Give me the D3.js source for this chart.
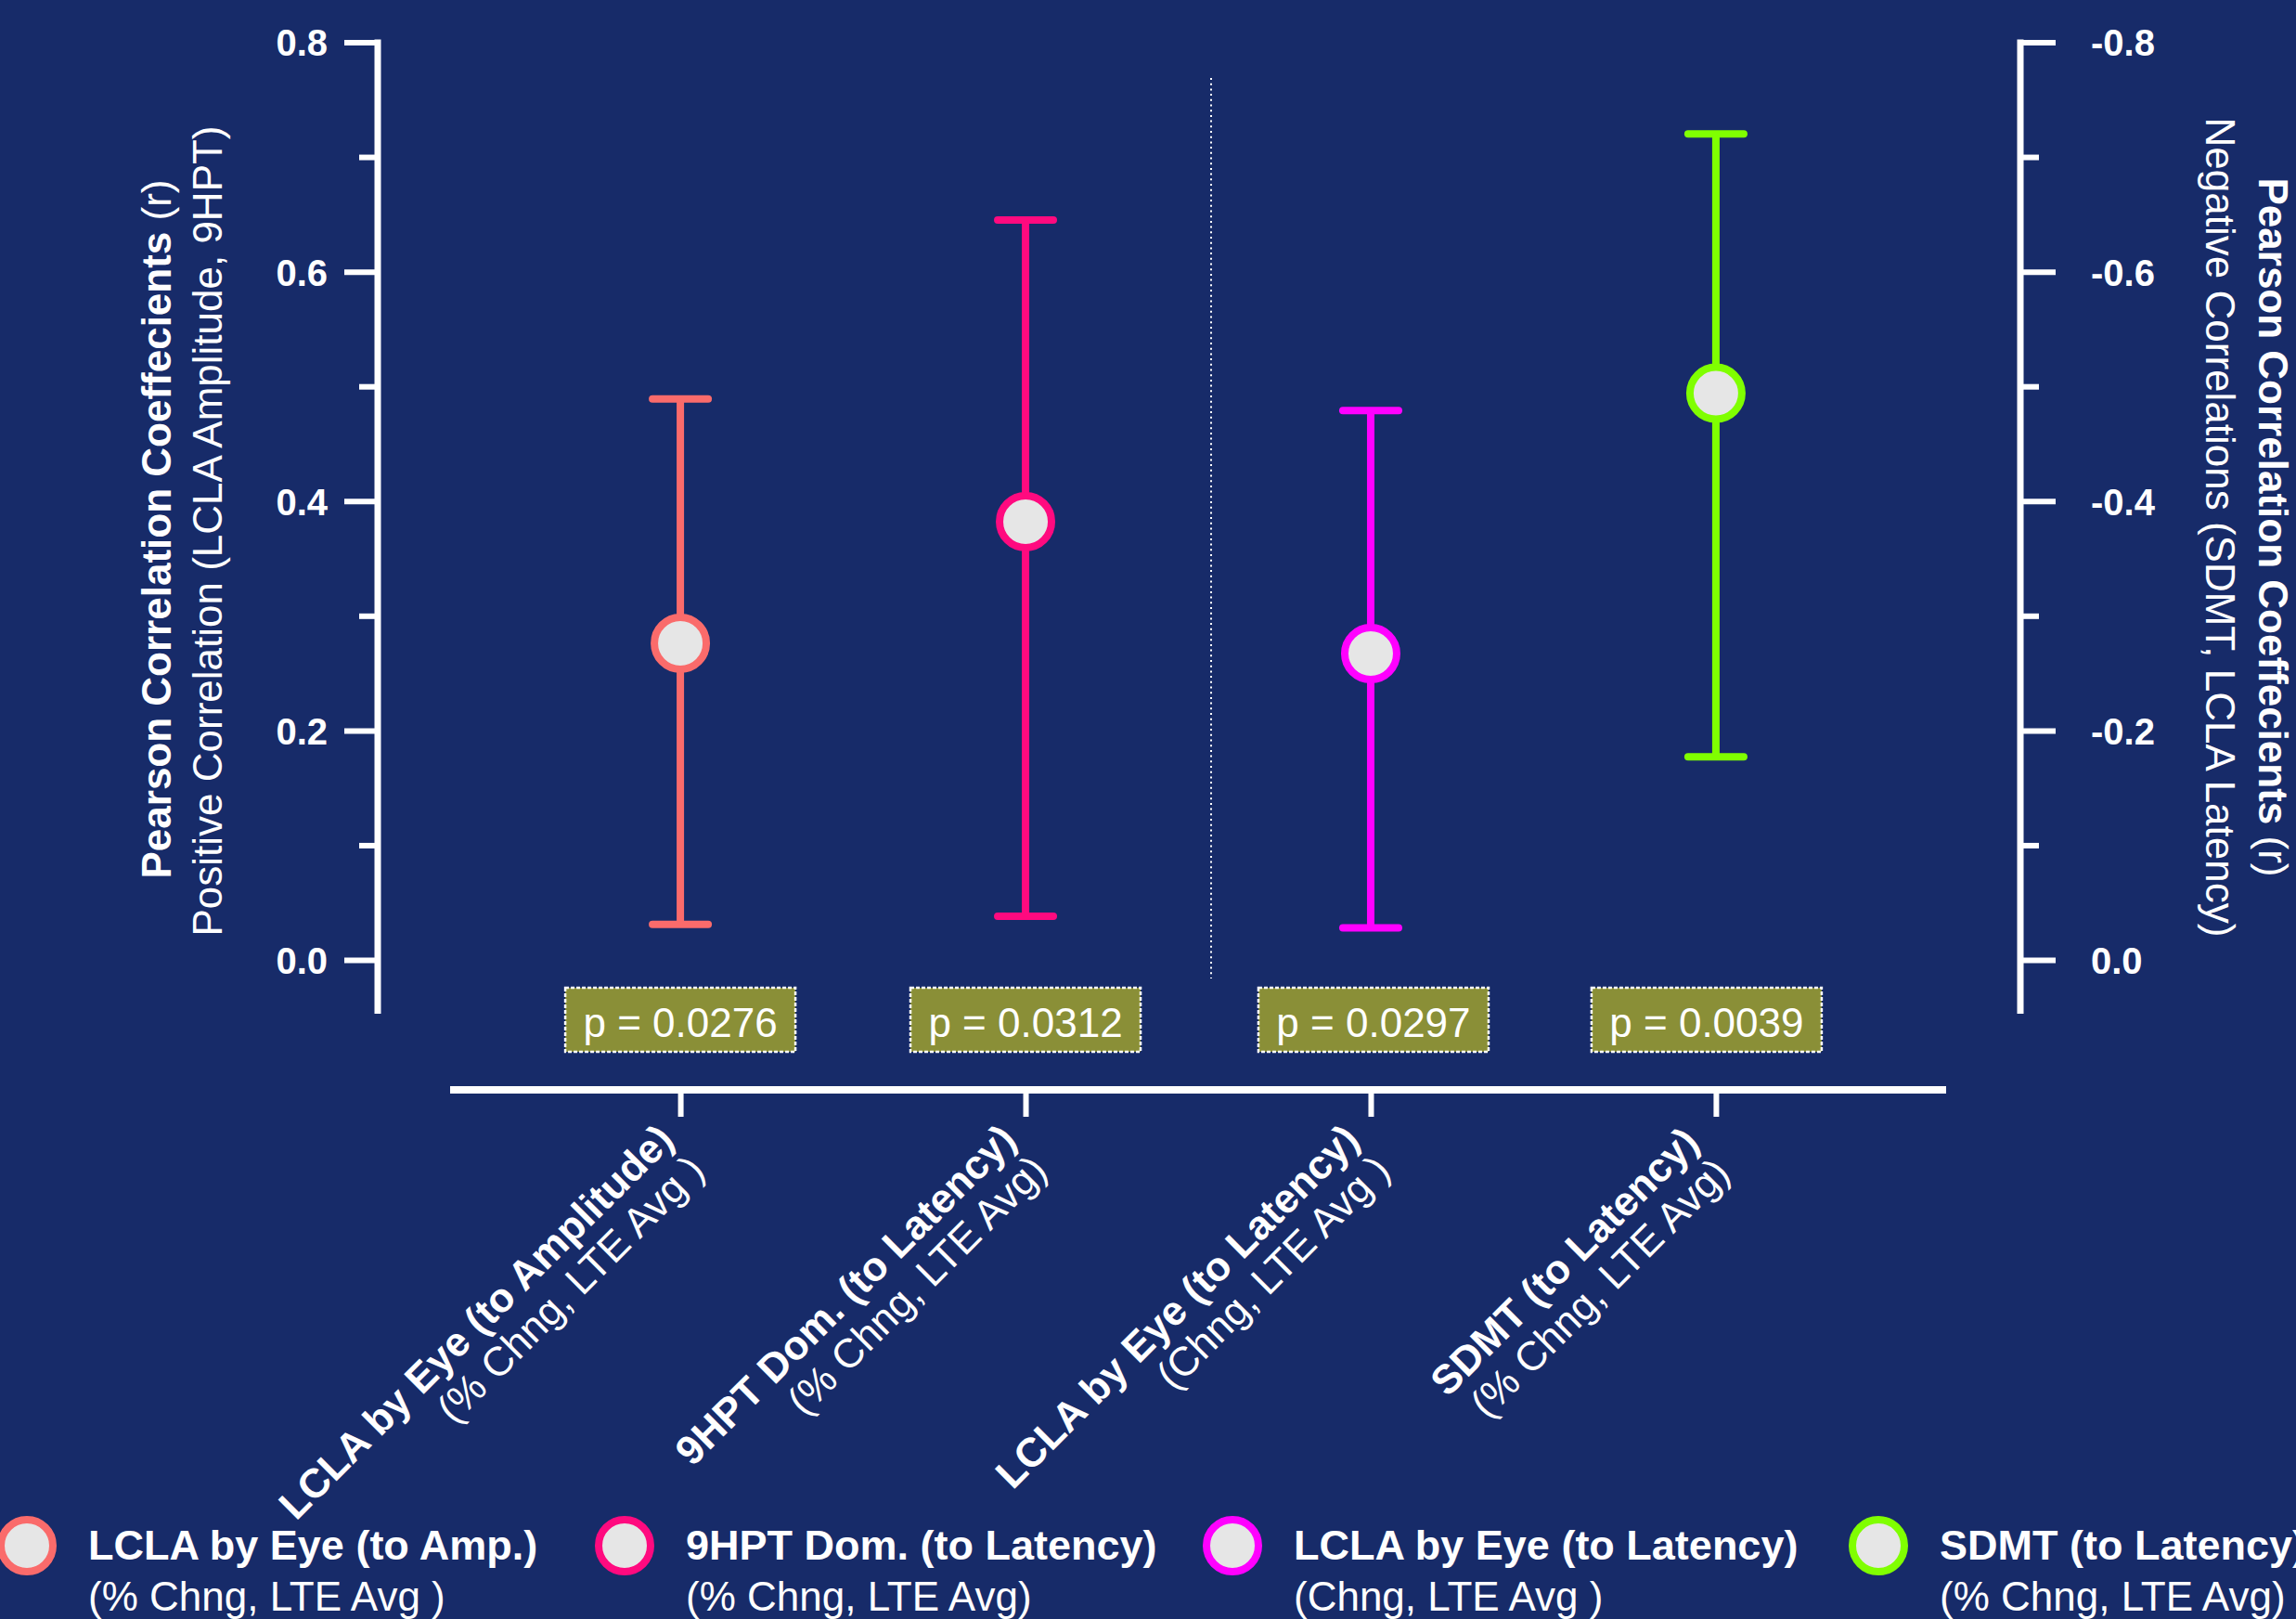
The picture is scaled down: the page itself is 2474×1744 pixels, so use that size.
<!DOCTYPE html>
<html>
<head>
<meta charset="utf-8">
<script src="https://cdn.jsdelivr.net/npm/d3@7"></script>
<style>
  html, body { margin: 0; padding: 0; background: #172b69; }
  svg { display: block; }
  text { font-family: "Liberation Sans", Arial, sans-serif; fill: #ffffff; }
</style>
</head>
<body>
<script>
// ---------------- data ----------------
const categories = ["LCLA by Eye (to Amplitude)", "9HPT Dom. (to Latency)", "LCLA by Eye (to Latency)", "SDMT (to Latency)"];
const categorySubs = ["(% Chng, LTE Avg )", "(% Chng, LTE Avg)", "(Chng, LTE Avg )", "(% Chng, LTE Avg)"];
const legendLabels = ["LCLA by Eye (to Amp.)", "9HPT Dom. (to Latency)", "LCLA by Eye (to Latency)", "SDMT (to Latency)"];
const legendSubs = ["(% Chng, LTE Avg )", "(% Chng, LTE Avg)", "(Chng, LTE Avg )", "(% Chng, LTE Avg)"];
const rValues = [0.276, 0.382, -0.267, -0.494];
const ciLow = [0.031, 0.038, -0.028, -0.177];
const ciHigh = [0.489, 0.645, -0.479, -0.720];
const axisSide = ["left", "left", "right", "right"];
const pValues = ["0.0276", "0.0312", "0.0297", "0.0039"];
const seriesColors = ["#fa6b6b", "#ff0a7f", "#ff00ff", "#80ff00"];
const leftTicks = [0, 0.2, 0.4, 0.6, 0.8];
const leftMinor = [0.1, 0.3, 0.5, 0.7];
const rightTicks = [0, -0.2, -0.4, -0.6, -0.8];
const rightMinor = [-0.1, -0.3, -0.5, -0.7];

// ---------------- layout ----------------
const W = 2474, H = 1744;
const BG = "#172b69";
const svg = d3.select("body").append("svg").attr("width", W).attr("height", H);
svg.append("rect").attr("width", W).attr("height", H).attr("fill", BG);

const yTop = 45.5, yBottom = 1034;
const yLeft = d3.scaleLinear().domain([0, 0.8]).range([yBottom, yTop]);
const yRight = d3.scaleLinear().domain([0, -0.8]).range([yBottom, yTop]);
const x = d3.scalePoint().domain(categories).range([485, 2097]).padding(0.667);
const leftX = 407, rightX = 2177, axisEndY = 1092, xAxisY = 1174;

const fmt = v => (Math.abs(v) < 1e-9 ? 0 : v).toFixed(1);

// left axis
const gL = svg.append("g").attr("transform", `translate(${leftX},0)`);
gL.call(d3.axisLeft(yLeft).tickValues(leftTicks).tickFormat(fmt).tickSize(36).tickSizeOuter(0).tickPadding(18));
gL.append("g").call(d3.axisLeft(yLeft).tickValues(leftMinor).tickFormat("").tickSize(20).tickSizeOuter(0));
gL.selectAll(".domain").remove();
gL.selectAll(".tick line").attr("stroke", "#fff").attr("stroke-width", 6);
gL.selectAll(".tick text").attr("fill", "#fff").style("font-size", "40px").style("font-weight", "bold")
  .style("font-family", "'Liberation Sans', Arial, sans-serif").attr("dy", "0.36em");
gL.append("line").attr("x1", 0).attr("x2", 0).attr("y1", yTop - 3).attr("y2", axisEndY)
  .attr("stroke", "#fff").attr("stroke-width", 7);

// right axis
const gR = svg.append("g").attr("transform", `translate(${rightX},0)`);
gR.call(d3.axisRight(yRight).tickValues(rightTicks).tickFormat(fmt).tickSize(38).tickSizeOuter(0).tickPadding(38));
gR.append("g").call(d3.axisRight(yRight).tickValues(rightMinor).tickFormat("").tickSize(20).tickSizeOuter(0));
gR.selectAll(".domain").remove();
gR.selectAll(".tick line").attr("stroke", "#fff").attr("stroke-width", 6);
gR.selectAll(".tick text").attr("fill", "#fff").style("font-size", "40px").style("font-weight", "bold")
  .style("font-family", "'Liberation Sans', Arial, sans-serif").attr("dy", "0.36em");
gR.append("line").attr("x1", 0).attr("x2", 0).attr("y1", yTop - 3).attr("y2", axisEndY)
  .attr("stroke", "#fff").attr("stroke-width", 7);

// left titles
const lt1 = svg.append("text").attr("transform", "translate(184,570) rotate(-90)")
  .attr("text-anchor", "middle").style("font-size", "44px");
lt1.append("tspan").style("font-weight", "bold").text("Pearson Correlation Coeffecients");
lt1.append("tspan").text(" (r)");
svg.append("text").attr("transform", "translate(239,572) rotate(-90)")
  .attr("text-anchor", "middle").style("font-size", "44px")
  .text("Positive Correlation (LCLA Amplitude, 9HPT)");

// right titles
const rt1 = svg.append("text").attr("transform", "translate(2434,568) rotate(90)")
  .attr("text-anchor", "middle").style("font-size", "44px");
rt1.append("tspan").style("font-weight", "bold").text("Pearson Correlation Coeffecients");
rt1.append("tspan").text(" (r)");
svg.append("text").attr("transform", "translate(2377,568) rotate(90)")
  .attr("text-anchor", "middle").style("font-size", "44px")
  .text("Negative Correlations (SDMT, LCLA Latency)");

// x axis
const gX = svg.append("g").attr("transform", `translate(0,${xAxisY})`);
gX.call(d3.axisBottom(x).tickSize(29).tickSizeOuter(0).tickFormat(""));
gX.selectAll(".domain").remove();
gX.selectAll(".tick line").attr("stroke", "#fff").attr("stroke-width", 6);
gX.append("line").attr("x1", 485).attr("x2", 2097).attr("y1", 0).attr("y2", 0)
  .attr("stroke", "#fff").attr("stroke-width", 8);

// x labels
const labelShift = [[-5, 56], [-8, 56], [-10, 56], [-16, 59]];
categories.forEach((c, i) => {
  const g = svg.append("g")
    .attr("transform", `translate(${x(c) + labelShift[i][0]},${xAxisY + labelShift[i][1]}) rotate(-45)`);
  g.append("text").attr("text-anchor", "end").style("font-size", "44px").style("font-weight", "bold").text(c);
  g.append("text").attr("text-anchor", "end").attr("y", 47).style("font-size", "44px").text(categorySubs[i]);
});

// dotted separator
svg.append("line").attr("x1", 1305).attr("x2", 1305).attr("y1", 84).attr("y2", 1054)
  .attr("stroke", "#fff").attr("stroke-width", 2).attr("stroke-dasharray", "2,3.7");

// p-value boxes
const boxOffset = [0, 0, 3, -10];
categories.forEach((c, i) => {
  const cx = x(c) + boxOffset[i];
  svg.append("rect").attr("x", cx - 124).attr("y", 1064).attr("width", 248).attr("height", 69)
    .attr("fill", "#8a8f37").attr("stroke", "#fff").attr("stroke-width", 2.5).attr("stroke-dasharray", "4,2");
  svg.append("text").attr("x", cx).attr("y", 1117).attr("text-anchor", "middle")
    .style("font-size", "44px").text("p = " + pValues[i]);
});

// error bars and points
categories.forEach((c, i) => {
  const ys = axisSide[i] === "left" ? yLeft : yRight;
  const cx = x(c), col = seriesColors[i];
  const g = svg.append("g");
  g.append("line").attr("x1", cx).attr("x2", cx).attr("y1", ys(ciLow[i])).attr("y2", ys(ciHigh[i]))
    .attr("stroke", col).attr("stroke-width", 8);
  [ciLow[i], ciHigh[i]].forEach(v => {
    g.append("line").attr("x1", cx - 30).attr("x2", cx + 30).attr("y1", ys(v)).attr("y2", ys(v))
      .attr("stroke", col).attr("stroke-width", 8).attr("stroke-linecap", "round");
  });
  g.append("circle").attr("cx", cx).attr("cy", ys(rValues[i])).attr("r", 28)
    .attr("fill", "#e6e6e6").attr("stroke", col).attr("stroke-width", 8);
});

// legend
const legendX = [29, 673, 1328, 2024];
legendLabels.forEach((l, i) => {
  const lx = legendX[i];
  svg.append("circle").attr("cx", lx).attr("cy", 1665).attr("r", 28)
    .attr("fill", "#e6e6e6").attr("stroke", seriesColors[i]).attr("stroke-width", 8);
  svg.append("text").attr("x", lx + 66).attr("y", 1680).style("font-size", "45px").style("font-weight", "bold").text(l);
  svg.append("text").attr("x", lx + 66).attr("y", 1735).style("font-size", "44px").text(legendSubs[i]);
});
</script>
</body>
</html>
